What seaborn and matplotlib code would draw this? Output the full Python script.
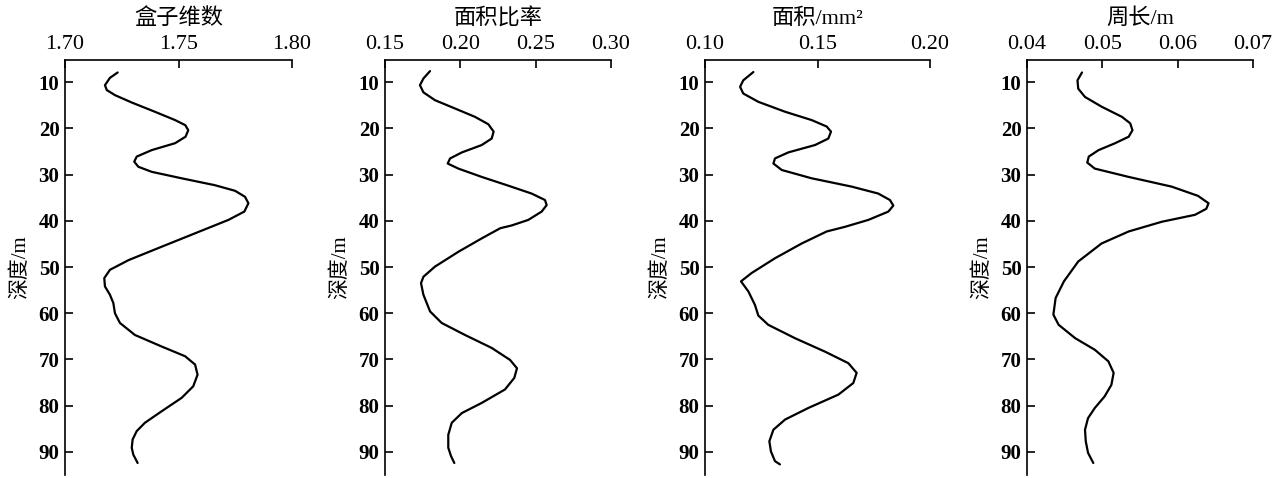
import matplotlib
matplotlib.use("Agg")
import matplotlib.pyplot as plt
import seaborn as sns
import pandas as pd

sns.set_theme(style="white")
plt.rcParams['font.family'] = ['Liberation Serif', 'Noto Sans CJK SC']
plt.rcParams['axes.unicode_minus'] = False
for key in ['text.color', 'axes.labelcolor', 'xtick.color', 'ytick.color']:
    plt.rcParams[key] = 'black'

# depth / value pairs
depth_box = [7.9, 9.06, 10.65, 11.7, 12.8, 14.4, 16.4, 18.2, 19.3, 20.4, 21.8, 23.2, 24.7, 26.1, 27.2,
             28.3, 29.4, 30.8, 32.3, 33.5, 34.8, 36.2, 38.0, 39.8, 42.7, 45.6, 48.5, 50.6, 52.4,
             54.2, 56.0, 57.8, 60.0, 62.1, 64.7, 67.2, 69.3, 71.1, 73.3, 75.8, 78.3, 81.2, 83.7,
             85.5, 87.3, 89.1, 90.6, 92.4]
box_dim = [1.7232, 1.7198, 1.7176, 1.7184, 1.7220, 1.7294, 1.7396, 1.7485, 1.7530, 1.7543, 1.7531,
           1.7485, 1.7382, 1.7316, 1.7305, 1.7323, 1.7382, 1.7514, 1.7661, 1.7749, 1.7793, 1.7808,
           1.7790, 1.7720, 1.7573, 1.7426, 1.7280, 1.7198, 1.7173, 1.7176, 1.7198, 1.7213, 1.7220,
           1.7242, 1.7308, 1.7426, 1.7529, 1.7573, 1.7584, 1.7565, 1.7514, 1.7426, 1.7352, 1.7316,
           1.7298, 1.7294, 1.7301, 1.7320]

depth_ratio = [7.6, 9.2, 10.65, 12.2, 13.9, 15.7, 17.5, 19.1, 20.7, 22.2, 23.6, 25.2, 26.5, 27.6, 28.7,
               30.5, 32.4, 34.1, 35.5, 36.6, 38.0, 39.8, 41.0, 41.6, 43.8, 46.7, 49.9, 52.1, 53.5,
               56.0, 59.6, 62.1, 64.7, 67.5, 70.1, 71.9, 74.0, 76.5, 79.4, 81.6, 83.7, 86.3, 89.1,
               90.9, 92.4]
area_ratio = [0.1799, 0.1755, 0.1732, 0.1755, 0.1832, 0.1965, 0.2097, 0.2186, 0.2221, 0.2208, 0.2142,
              0.2010, 0.1932, 0.1916, 0.1987, 0.2142, 0.2319, 0.2473, 0.2562, 0.2573, 0.2540, 0.2451,
              0.2341, 0.2265, 0.2142, 0.1987, 0.1832, 0.1755, 0.1739, 0.1755, 0.1799, 0.1876, 0.2031,
              0.2208, 0.2330, 0.2376, 0.2358, 0.2296, 0.2142, 0.2010, 0.1943, 0.1920, 0.1920, 0.1938,
              0.1960]

depth_area = [7.8, 9.6, 11.0, 12.45, 14.25, 16.4, 18.2, 19.6, 20.7, 22.2, 23.6, 25.2, 26.5, 27.6, 29.0,
              30.8, 32.6, 34.1, 35.5, 36.7, 38.0, 39.8, 41.3, 42.3, 44.9, 48.1, 51.3, 53.1, 55.3,
              58.2, 60.5, 62.5, 65.4, 68.3, 70.8, 72.9, 75.1, 77.6, 80.5, 83.0, 85.2, 87.7, 89.9,
              92.0, 92.7]
area = [0.1215, 0.1170, 0.1156, 0.1170, 0.1237, 0.1356, 0.1474, 0.1541, 0.1560, 0.1548, 0.1489,
        0.1370, 0.1311, 0.1304, 0.1341, 0.1474, 0.1652, 0.1770, 0.1822, 0.1837, 0.1815, 0.1726,
        0.1622, 0.1541, 0.1430, 0.1311, 0.1207, 0.1160, 0.1193, 0.1222, 0.1237, 0.1281, 0.1400,
        0.1533, 0.1637, 0.1674, 0.1659, 0.1593, 0.1459, 0.1356, 0.1304, 0.1286, 0.1293, 0.1311,
        0.1333]

depth_perim = [7.9, 9.6, 11.4, 13.2, 15.3, 17.5, 18.9, 20.4, 21.8, 23.2, 24.7, 26.1, 27.4, 28.7, 30.5,
               32.6, 34.6, 36.2, 37.4, 38.7, 40.2, 42.3, 44.9, 48.8, 53.1, 56.7, 60.3, 62.5, 65.4,
               67.9, 70.4, 72.9, 75.5, 78.0, 80.5, 82.7, 85.2, 87.7, 90.2, 92.4]
perimeter = [0.0473, 0.0467, 0.0468, 0.0477, 0.0499, 0.0526, 0.0537, 0.0540, 0.0535, 0.0517, 0.0495,
             0.0482, 0.0480, 0.0490, 0.0535, 0.0592, 0.0627, 0.0641, 0.0638, 0.0623, 0.0579, 0.0535,
             0.0499, 0.0468, 0.0449, 0.0438, 0.0435, 0.0442, 0.0464, 0.0490, 0.0508, 0.0515, 0.0512,
             0.0503, 0.0490, 0.0481, 0.0477, 0.0478, 0.0481, 0.0488]

titles = ['盒子维数', '面积比率', '面积/mm²', '周长/m']
xlims = [(1.70, 1.80), (0.15, 0.30), (0.10, 0.20), (0.04, 0.07)]
xticks = [[1.70, 1.75, 1.80], [0.15, 0.20, 0.25, 0.30], [0.10, 0.15, 0.20], [0.04, 0.05, 0.06, 0.07]]
xticklabels = [['1.70', '1.75', '1.80'], ['0.15', '0.20', '0.25', '0.30'],
               ['0.10', '0.15', '0.20'], ['0.04', '0.05', '0.06', '0.07']]
yticks = [10, 20, 30, 40, 50, 60, 70, 80, 90]

series = [(depth_box, box_dim), (depth_ratio, area_ratio), (depth_area, area), (depth_perim, perimeter)]

fig = plt.figure(figsize=(12.88, 4.78), dpi=100)
lefts = [65, 385, 705, 1027]
widths = [227, 226, 225, 226]

for i, (d, v) in enumerate(series):
    ax = fig.add_axes([lefts[i] / 1288, 3 / 478, widths[i] / 1288, 415 / 478])
    df = pd.DataFrame({'depth': d, 'value': v})
    sns.lineplot(data=df, x='value', y='depth', sort=False, estimator=None,
                 color='black', linewidth=1.6, ax=ax)
    for ln in ax.lines:
        ln.set_solid_joinstyle('round')
        ln.set_solid_capstyle('round')
    ax.set_xlim(*xlims[i])
    ax.set_ylim(95, 5.2)
    ax.xaxis.tick_top()
    ax.xaxis.set_label_position('top')
    ax.set_xticks(xticks[i])
    ax.set_xticklabels(xticklabels[i], fontsize=16)
    ax.set_yticks(yticks)
    ax.set_yticklabels([str(t) for t in yticks], fontsize=15, fontweight='bold')
    ax.set_xlabel(titles[i], fontsize=16, labelpad=8)
    ax.set_ylabel('深度/m', fontsize=15, labelpad=6)
    ax.tick_params(axis='both', direction='in', length=6, width=1.2, color='black',
                   top=True, bottom=False, left=True, right=False, pad=4)
    for s in ['right', 'bottom']:
        ax.spines[s].set_visible(False)
    for s in ['left', 'top']:
        ax.spines[s].set_color('black')
        ax.spines[s].set_linewidth(1.2)
    ax.set_facecolor('white')

fig.savefig('out.png', dpi=100, facecolor='white')
